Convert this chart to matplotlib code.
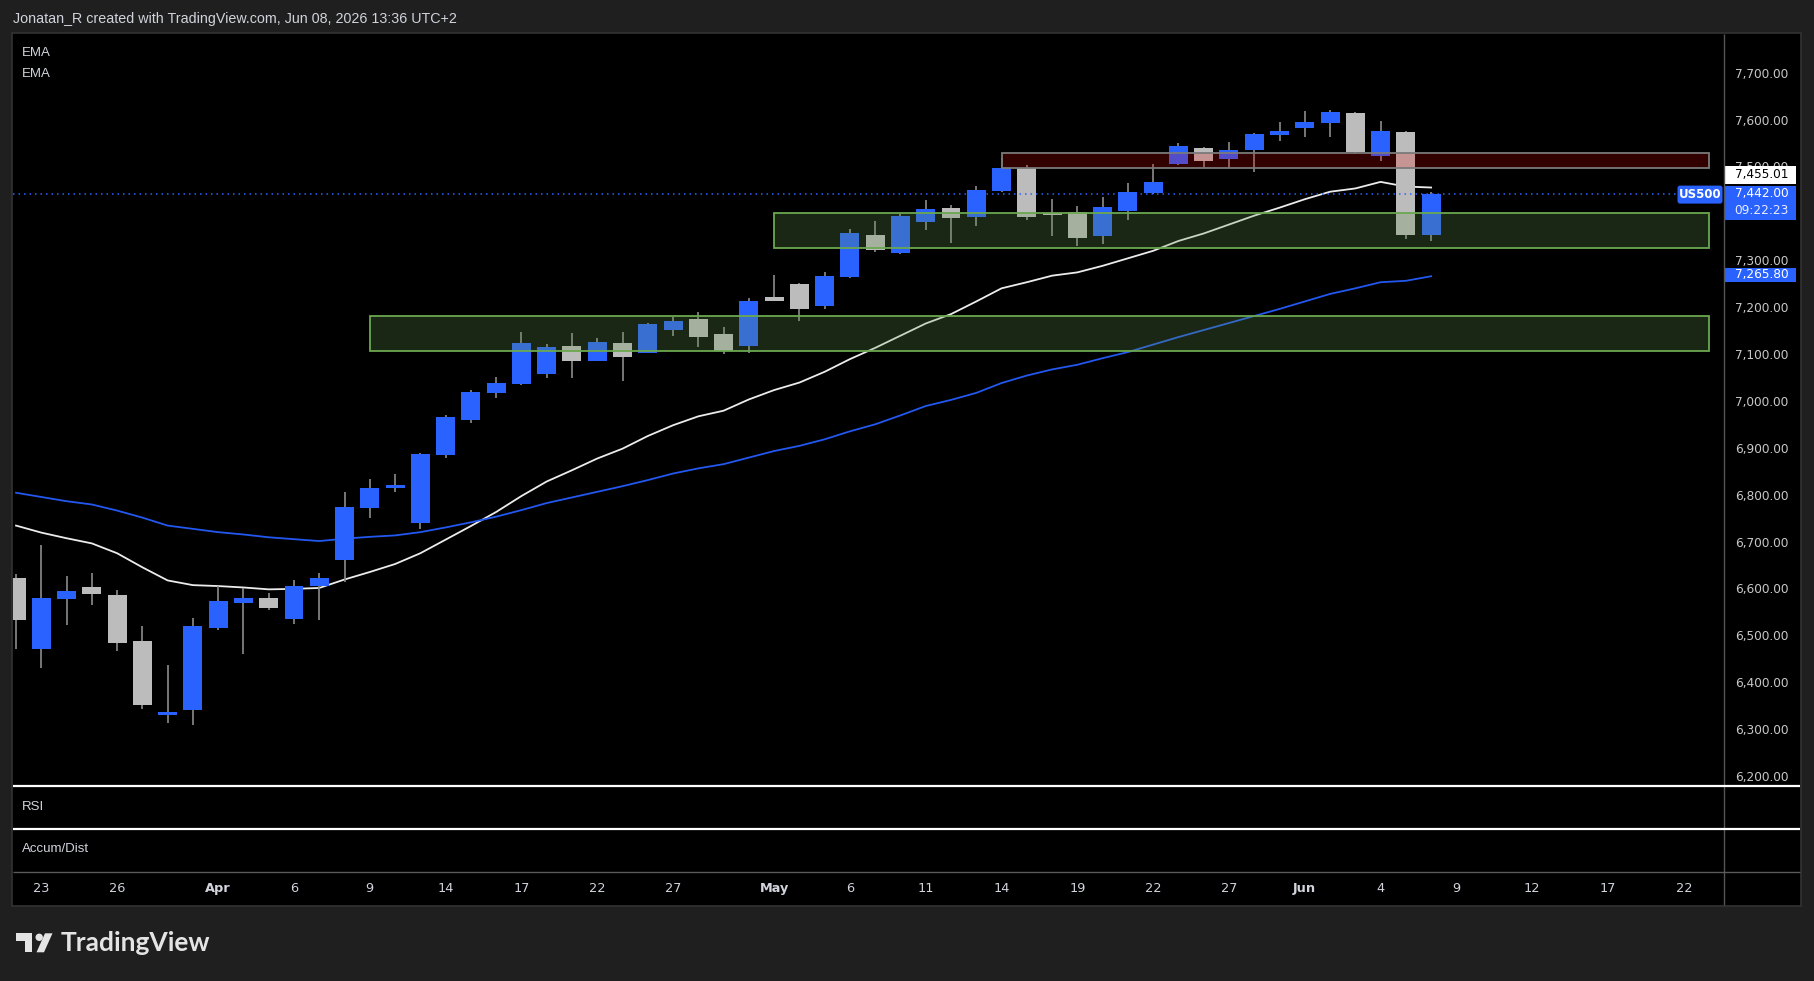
import numpy as np
import pandas as pd
import matplotlib
matplotlib.use('Agg')
import matplotlib.pyplot as plt
from matplotlib import transforms
from matplotlib.patches import Rectangle, Polygon, Circle, FancyBboxPatch

# ---- daily bars US500 (first bar = 2026-03-20)
start_date = '2026-03-20'
opens = [6622, 6470, 6578, 6602, 6585, 6487, 6330, 6340, 6515, 6568,
         6579, 6534, 6605, 6660, 6771, 6815, 6739, 6884, 6960, 7016,
         7035, 7058, 7116, 7086, 7124, 7103, 7152, 7175, 7143, 7118,
         7222, 7250, 7203, 7265, 7354, 7316, 7382, 7412, 7393, 7448,
         7497, 7401, 7403, 7352, 7405, 7444, 7505, 7539, 7516, 7535,
         7567, 7582, 7593, 7614, 7522, 7574, 7354]
highs = [6630, 6692, 6626, 6632, 6596, 6519, 6436, 6536, 6606, 6600,
         6590, 6617, 6632, 6805, 6833, 6845, 6888, 6969, 7024, 7050,
         7146, 7122, 7144, 7135, 7146, 7167, 7178, 7190, 7158, 7220,
         7269, 7252, 7275, 7367, 7384, 7399, 7429, 7418, 7459, 7518,
         7503, 7431, 7416, 7435, 7465, 7505, 7550, 7542, 7552, 7572,
         7595, 7618, 7621, 7616, 7597, 7576, 7446]
lows = [6470, 6431, 6521, 6564, 6466, 6343, 6313, 6309, 6512, 6460,
        6555, 6525, 6532, 6614, 6750, 6805, 6726, 6879, 6952, 7007,
        7033, 7048, 7048, 7084, 7043, 7101, 7139, 7114, 7099, 7101,
        7212, 7171, 7196, 7263, 7318, 7314, 7365, 7337, 7373, 7446,
        7386, 7352, 7331, 7335, 7386, 7442, 7503, 7499, 7497, 7489,
        7554, 7563, 7563, 7529, 7512, 7346, 7341]
closes = [6532, 6579, 6594, 6588, 6483, 6351, 6336, 6519, 6573, 6579,
          6558, 6606, 6622, 6773, 6815, 6820, 6886, 6965, 7018, 7039,
          7124, 7114, 7086, 7126, 7094, 7163, 7171, 7137, 7107, 7214,
          7214, 7195, 7267, 7358, 7322, 7394, 7410, 7390, 7450, 7497,
          7393, 7397, 7348, 7414, 7446, 7467, 7544, 7512, 7535, 7569,
          7576, 7595, 7616, 7531, 7576, 7354, 7442]

# EMA lines as drawn on the chart (white = fast, blue = slow)
ema_fast = [6734, 6719, 6707, 6696, 6675, 6645, 6617, 6607, 6605, 6602,
            6598, 6599, 6601, 6619, 6635, 6652, 6675, 6704, 6733, 6763,
            6797, 6828, 6852, 6877, 6898, 6925, 6948, 6967, 6979, 7003,
            7023, 7039, 7062, 7089, 7113, 7139, 7165, 7185, 7212, 7240,
            7253, 7267, 7274, 7288, 7304, 7320, 7341, 7357, 7376, 7395,
            7412, 7430, 7446, 7453, 7467, 7457, 7455.01]
ema_slow = [6804, 6795, 6786, 6779, 6766, 6751, 6734, 6727, 6720, 6715,
            6709, 6705, 6701, 6706, 6710, 6713, 6720, 6730, 6741, 6753,
            6767, 6782, 6794, 6806, 6818, 6831, 6845, 6856, 6865, 6879,
            6893, 6904, 6918, 6935, 6950, 6969, 6989, 7002, 7017, 7038,
            7054, 7067, 7077, 7091, 7104, 7120, 7136, 7151, 7166, 7181,
            7196, 7212, 7228, 7240, 7253, 7256, 7265.80]

# drawn zones
zone_start = ['2026-04-09', '2026-05-01', '2026-05-14']
zone_end = '2026-06-23'
zone_low = [7107, 7326, 7496]
zone_high = [7181, 7401, 7528]
zone_kind = ['support', 'support', 'resist']

tick_dates = ['2026-03-23', '2026-03-26', '2026-04-01', '2026-04-06', '2026-04-09',
              '2026-04-14', '2026-04-17', '2026-04-22', '2026-04-27', '2026-05-01',
              '2026-05-06', '2026-05-11', '2026-05-14', '2026-05-19', '2026-05-22',
              '2026-05-27', '2026-06-01', '2026-06-04', '2026-06-09', '2026-06-12',
              '2026-06-17', '2026-06-22']
tick_labels = ['23', '26', 'Apr', '6', '9', '14', '17', '22', '27', 'May', '6', '11',
               '14', '19', '22', '27', 'Jun', '4', '9', '12', '17', '22']

# price scale levels (7,400 sits under the last-price tag, not shown)
price_ticks = [6200, 6300, 6400, 6500, 6600, 6700, 6800, 6900, 7000,
               7100, 7200, 7300, 7500, 7600, 7700]

countdown = '09:22:23'
symbol = 'US500'

BLUE = '#2962ff'
GRAY = '#bcbcbc'
WICK = '#8c8c8c'
TXT = '#d1d4dc'

W, H = 1814, 981
fig = plt.figure(figsize=(W / 100, H / 100), dpi=100, facecolor='#1f1f1f')


def px_axes(x0, y0, x1, y1, **kw):
    # axes from pixel box, top-left origin
    return fig.add_axes([x0 / W, 1 - y1 / H, (x1 - x0) / W, (y1 - y0) / H], **kw)


bg = fig.add_axes([0, 0, 1, 1], zorder=0)
bg.set_xlim(0, W)
bg.set_ylim(H, 0)
bg.axis('off')
bg.add_patch(Rectangle((12, 33), 1789, 873, facecolor='black', edgecolor='#333333', lw=1.2))

calendar = pd.bdate_range(start_date, '2026-06-30')
pos = lambda d: calendar.get_indexer(pd.to_datetime(d))

o = np.array(opens, float)
h = np.array(highs, float)
l = np.array(lows, float)
c = np.array(closes, float)
x = np.arange(len(o))

ax = px_axes(13, 34, 1724, 786, zorder=1, facecolor='black')
ax.set_xlim(-0.12, 67.59)
ax.set_ylim(6178.6, 7782.4)

up = c >= o
colors = np.where(up, BLUE, GRAY)
ax.vlines(x, l, h, color=WICK, lw=1.2, zorder=3)
body_lo = np.minimum(o, c)
body_h = np.maximum(np.abs(c - o), 2.5)
ax.bar(x, body_h, bottom=body_lo, width=0.75, color=colors, linewidth=0, zorder=4)

ax.plot(x, ema_fast, color='#ececec', lw=1.3, zorder=2)
ax.plot(x, ema_slow, color='#2358f0', lw=1.3, zorder=2)

x_end = pos([zone_end])[0]
for s, lo, hi, kind in zip(pos(zone_start), zone_low, zone_high, zone_kind):
    if kind == 'support':
        fc, ec = (0.40, 0.59, 0.31, 0.265), '#6aa84f'
    else:
        fc, ec = (0.95, 0.0, 0.0, 0.21), '#7a7a7a'
    ax.add_patch(Rectangle((s, lo), x_end - s, hi - lo, facecolor=fc, edgecolor=ec, lw=1.3, zorder=5))

# last price dotted line, up to the symbol tag
blend = transforms.blended_transform_factory(ax.transAxes, ax.transData)
ax.plot([0, (1677 - 13) / 1711], [c[-1], c[-1]], transform=blend, color=BLUE,
        lw=1.1, ls=(0, (1, 2.6)), zorder=6)

ax.set_xticks([])
ax.yaxis.tick_right()
ax.set_yticks(price_ticks, [f'{v:,.2f}' for v in price_ticks])
ax.tick_params(axis='y', length=0, pad=7.9, labelsize=8.7, labelcolor='#c8c8c8')
for s in ax.spines.values():
    s.set_visible(False)

# empty indicator panes
for y0, y1 in [(787, 829), (830, 871)]:
    pa = px_axes(y0=y0, y1=y1, x0=13, x1=1724, zorder=1, facecolor='black')
    pa.set_xticks([])
    pa.set_yticks([])
    for s in pa.spines.values():
        s.set_visible(False)

# time axis
tax = px_axes(13, 872, 1724, 905, zorder=1, facecolor='black')
tax.set_xlim(ax.get_xlim())
tax.set_ylim(0, 1)
tax.axis('off')
for p, lab in zip(pos(tick_dates), tick_labels):
    tax.text(p, 0.5, lab, ha='center', va='center', fontsize=9.3, color=TXT,
             fontweight='bold' if lab.isalpha() else 'normal')

# overlay: separators, price tags, texts, logo
ov = fig.add_axes([0, 0, 1, 1], zorder=10)
ov.set_xlim(0, W)
ov.set_ylim(H, 0)
ov.axis('off')
ov.patch.set_alpha(0)

ov.vlines(1724, 34, 905, color='#555555', lw=1)
ov.hlines([786, 829], 13, 1800, color='white', lw=1.6)
ov.hlines(871.5, 13, 1800, color='#5a5a5a', lw=1)


def py(p):
    return H - ax.transData.transform((0, p))[1]


y_last = py(c[-1])
# blue last-price tag with countdown
ov.add_patch(Rectangle((1724, y_last - 8), 72, 34.5, facecolor=BLUE, lw=0))
ov.text(1789, y_last, f'{c[-1]:,.2f}', ha='right', va='center', fontsize=8.7, color='white')
ov.text(1789, y_last + 17, countdown, ha='right', va='center', fontsize=8.7, color='#e6ecff')
# fast EMA tag pushed above
ov.add_patch(Rectangle((1724, y_last - 28), 72, 18.3, facecolor='white', lw=0))
ov.text(1789, y_last - 18.8, f'{ema_fast[-1]:,.2f}', ha='right', va='center', fontsize=8.7, color='black')
# slow EMA tag
y_slow = py(ema_slow[-1])
ov.add_patch(Rectangle((1724, y_slow - 8.5), 72, 14.5, facecolor=BLUE, lw=0))
ov.text(1789, y_slow - 1.3, f'{ema_slow[-1]:,.2f}', ha='right', va='center', fontsize=8.7, color='white')
# symbol tag
ov.add_patch(FancyBboxPatch((1679, y_last - 6.5), 42, 15, boxstyle='round,pad=1.5,rounding_size=2.5',
                            facecolor=BLUE, lw=0))
ov.text(1700, y_last + 1, symbol, ha='center', va='center', fontsize=8.5, color='white', fontweight='bold')

ov.text(13, 19, 'Jonatan_R created with TradingView.com, Jun 08, 2026 13:36 UTC+2',
        ha='left', va='center', fontsize=10.3, color=TXT, family='Liberation Sans')
ov.text(22, 53, 'EMA', ha='left', va='center', fontsize=9.5, color=TXT, family='Liberation Sans')
ov.text(22, 74, 'EMA', ha='left', va='center', fontsize=9.5, color=TXT, family='Liberation Sans')
ov.text(22, 806.5, 'RSI', ha='left', va='center', fontsize=9.5, color=TXT, family='Liberation Sans')
ov.text(22, 849, 'Accum/Dist', ha='left', va='center', fontsize=9.5, color=TXT, family='Liberation Sans')

# TradingView logo
logo_col = '#e4e4e4'
ov.add_patch(Polygon([(15.7, 933.3), (32.3, 933.3), (32.3, 952.3), (25, 952.3), (25, 940.7), (15.7, 940.7)],
                     closed=True, facecolor=logo_col, lw=0))
ov.add_patch(Circle((39.2, 937.3), 3.7, facecolor=logo_col, lw=0))
ov.add_patch(Polygon([(45, 933.3), (52.5, 933.3), (44, 952.3), (36.5, 952.3)], closed=True,
                     facecolor=logo_col, lw=0))
ov.text(61, 943, 'TradingView', ha='left', va='center', fontsize=19, color=logo_col,
        family='Lato', fontweight='bold')

fig.savefig('out.png', dpi=100, facecolor=fig.get_facecolor())
